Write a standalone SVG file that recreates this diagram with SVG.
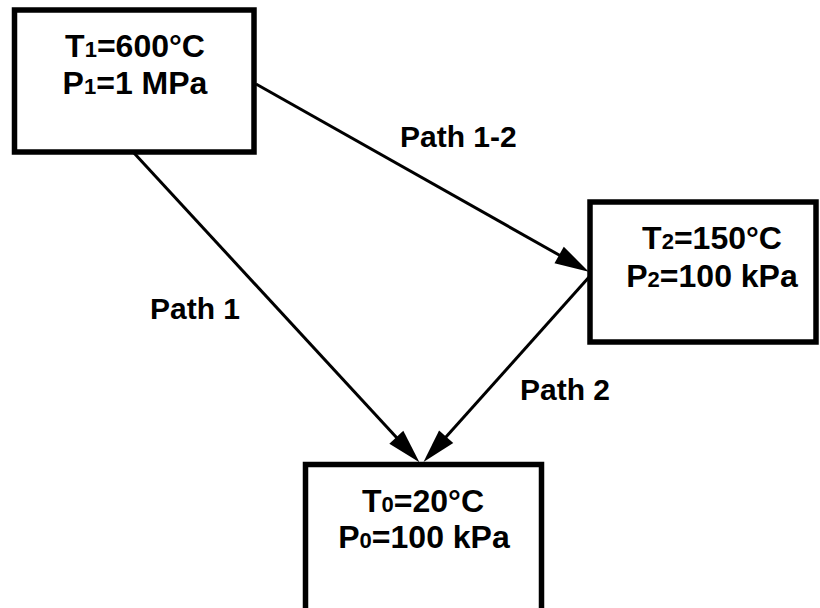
<svg xmlns="http://www.w3.org/2000/svg" width="820" height="608" viewBox="0 0 820 608">
  <style>
    .box { fill: #ffffff; stroke: #000000; stroke-width: 5.5; }
    .state { font-family: "Liberation Sans", Arial, Helvetica, sans-serif; font-weight: bold; font-size: 32px; fill: #000000; text-anchor: middle; }
    .sub { font-size: 22px; }
    .label { font-family: "Liberation Sans", Arial, Helvetica, sans-serif; font-weight: bold; font-size: 30px; fill: #000000; }
    .edge { stroke: #000000; stroke-width: 3; fill: none; marker-end: url(#head); }
  </style>
  <defs>
    <marker id="head" markerUnits="userSpaceOnUse" markerWidth="36" markerHeight="20" refX="1" refY="9.5" orient="auto" overflow="visible">
      <path d="M0,0 L34,9.5 L0,19 Z" fill="#000000"/>
    </marker>
  </defs>
  <rect width="820" height="608" fill="#ffffff"/>

  <!-- connectors -->
  <g id="connectors">
    <line class="edge" x1="134" y1="153" x2="397" y2="438"/>
    <line class="edge" x1="256" y1="84" x2="560" y2="255.5"/>
    <line class="edge" x1="590" y1="276" x2="445.5" y2="437.5"/>
    <text class="label" x="150" y="319">Path 1</text>
    <text class="label" x="400" y="147">Path 1-2</text>
    <text class="label" x="520" y="400">Path 2</text>
  </g>

  <!-- state 1 -->
  <g id="state1">
    <rect class="box" x="14.5" y="10" width="239.5" height="142"/>
    <text class="state" x="135" y="57">T<tspan class="sub">1</tspan>=600°C</text>
    <text class="state" x="135" y="94">P<tspan class="sub">1</tspan>=1 MPa</text>
  </g>

  <!-- state 2 -->
  <g id="state2">
    <rect class="box" x="590" y="202" width="226" height="140"/>
    <text class="state" x="712" y="249">T<tspan class="sub">2</tspan>=150°C</text>
    <text class="state" x="712" y="287">P<tspan class="sub">2</tspan>=100 kPa</text>
  </g>

  <!-- dead state -->
  <g id="state0">
    <rect class="box" x="305.5" y="464.5" width="236" height="160"/>
    <text class="state" x="423" y="512">T<tspan class="sub">0</tspan>=20°C</text>
    <text class="state" x="424" y="548">P<tspan class="sub">0</tspan>=100 kPa</text>
  </g>
</svg>
